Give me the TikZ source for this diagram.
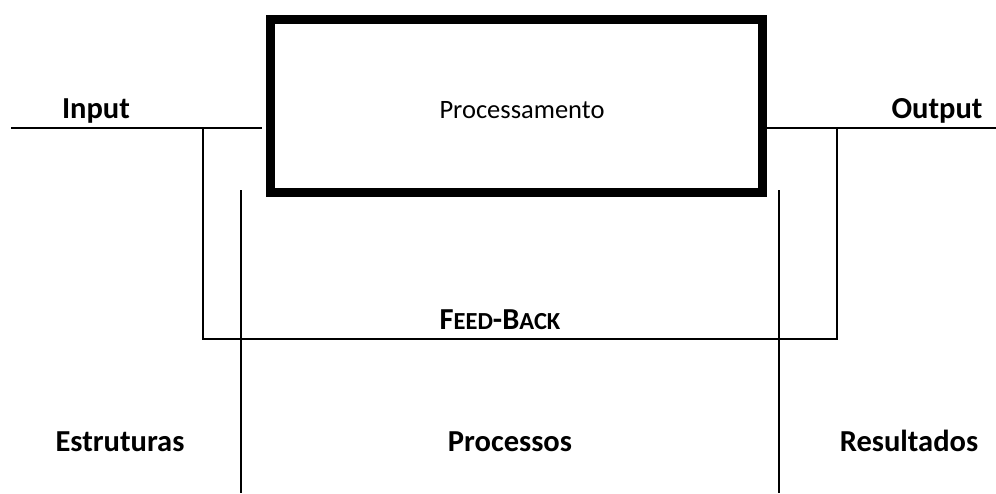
\documentclass[tikz,border=0pt]{standalone}
\usepackage{fontspec}
\setmainfont{Carlito}
\newcommand{\bigtxt}{\fontsize{30.5}{36}\selectfont}
\newcommand{\smtxt}{\fontsize{24.5}{29}\selectfont}
\newcommand{\midtxt}{\fontsize{26.5}{31}\selectfont}
\begin{document}
\begin{tikzpicture}[x=1pt,y=-1pt,
  thinline/.style={line width=1.5pt},
  procbox/.style={draw, line width=9pt, minimum width=491.5pt, minimum height=173pt, inner sep=0pt},
  lbl/.style={anchor=base, inner sep=0pt, font=\bigtxt\bfseries},
  plainlbl/.style={anchor=base, inner sep=0pt, font=\midtxt}]
\useasboundingbox (0,0) rectangle (996,493);
% main box
\node[procbox] (proc) at (516.25,106) {};
\node[plainlbl] (proctxt) at (522,118) {Processamento};
% input / output lines
\coordinate (inL) at (11,128);
\coordinate (inR) at (262,128);
\coordinate (outL) at (767,128);
\coordinate (outR) at (996,128);
\draw[thinline] (inL) -- (inR);
\draw[thinline] (outL) -- (outR);
% feedback loop
\coordinate (fbA) at (203,128);
\coordinate (fbB) at (203,339);
\coordinate (fbC) at (837,339);
\coordinate (fbD) at (837,128);
\draw[thinline] (fbA) -- (fbB) -- (fbC) -- (fbD);
% separators
\coordinate (sepLt) at (241,190);
\coordinate (sepLb) at (241,493);
\coordinate (sepRt) at (779,190);
\coordinate (sepRb) at (779,493);
\draw[thinline] (sepLt) -- (sepLb);
\draw[thinline] (sepRt) -- (sepRb);
% labels
\node[lbl] (input) at (96,118) {Input};
\node[lbl] (output) at (937,118) {Output};
\node[lbl] (fb) at (500,329) {F{\smtxt EED}-B{\smtxt ACK}};
\node[lbl] (estr) at (120,451) {Estruturas};
\node[lbl] (procs) at (510,451) {Processos};
\node[lbl] (res) at (909,451) {Resultados};
\end{tikzpicture}
\end{document}
